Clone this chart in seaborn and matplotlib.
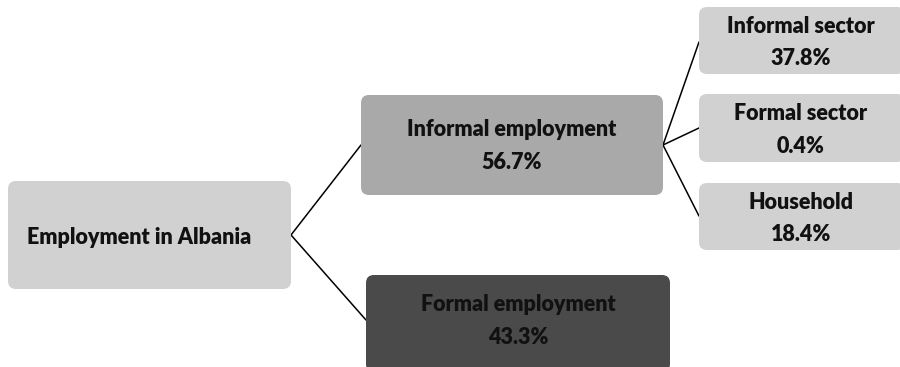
import seaborn as sns
import matplotlib.pyplot as plt
from matplotlib.patches import FancyBboxPatch

# Data
root_label = "Employment in Albania"
level1_names = ["Informal employment", "Formal employment"]
level1_shares = [56.7, 43.3]
level2_names = ["Informal sector", "Formal sector", "Household"]
level2_shares = [37.8, 0.4, 18.4]

sns.set_theme(style="white")
plt.rcParams['font.family'] = ['Lato', 'DejaVu Sans']

fig = plt.figure(figsize=(9, 3.67), dpi=100)
ax = fig.add_axes([0, 0, 1, 1])
ax.set_xlim(0, 900)
ax.set_ylim(367, 0)
ax.axis("off")

def node(x0, y0, x1, y1, color, text, tx=None, ty=None, tcolor="#111111"):
    box = FancyBboxPatch((x0, y0), x1 - x0, y1 - y0,
                         boxstyle="round,pad=0,rounding_size=8",
                         facecolor=color, edgecolor="none", zorder=2)
    ax.add_patch(box)
    if tx is None:
        tx = (x0 + x1) / 2
    if ty is None:
        ty = (y0 + y1) / 2
    ax.text(tx, ty, text, ha="center", va="center", fontsize=15.5,
            fontweight="heavy", color=tcolor, linespacing=1.65, zorder=3)

# boxes: root, level 1, level 2
node(8, 181, 291, 289, "#d1d1d1", root_label, tx=139, ty=238)

l1_boxes = [(361, 95, 663, 195, "#a9a9a9"), (366, 275, 670, 372, "#4a4a4a")]
l1_text_y = [146, 321]
for (x0, y0, x1, y1, c), name, share, ty in zip(l1_boxes, level1_names, level1_shares, l1_text_y):
    node(x0, y0, x1, y1, c, f"{name}\n{share}%", ty=ty, tcolor="#111111")

l2_boxes = [(699, 7, 905, 74), (699, 94, 905, 162), (699, 183, 905, 250)]
for (x0, y0, x1, y1), name, share in zip(l2_boxes, level2_names, level2_shares):
    node(x0, y0, x1, y1, "#d1d1d1", f"{name}\n{share}%", tx=801, ty=(y0 + y1) / 2 + 2)

# connectors
ax.plot([291, 361], [235, 145], color="black", lw=1.1, zorder=1)
ax.plot([291, 366], [235, 320], color="black", lw=1.1, zorder=1)
for yy in [42, 128, 216]:
    ax.plot([663, 699], [145, yy], color="black", lw=1.1, zorder=1)

fig.savefig("out.png", dpi=100, facecolor="white")
